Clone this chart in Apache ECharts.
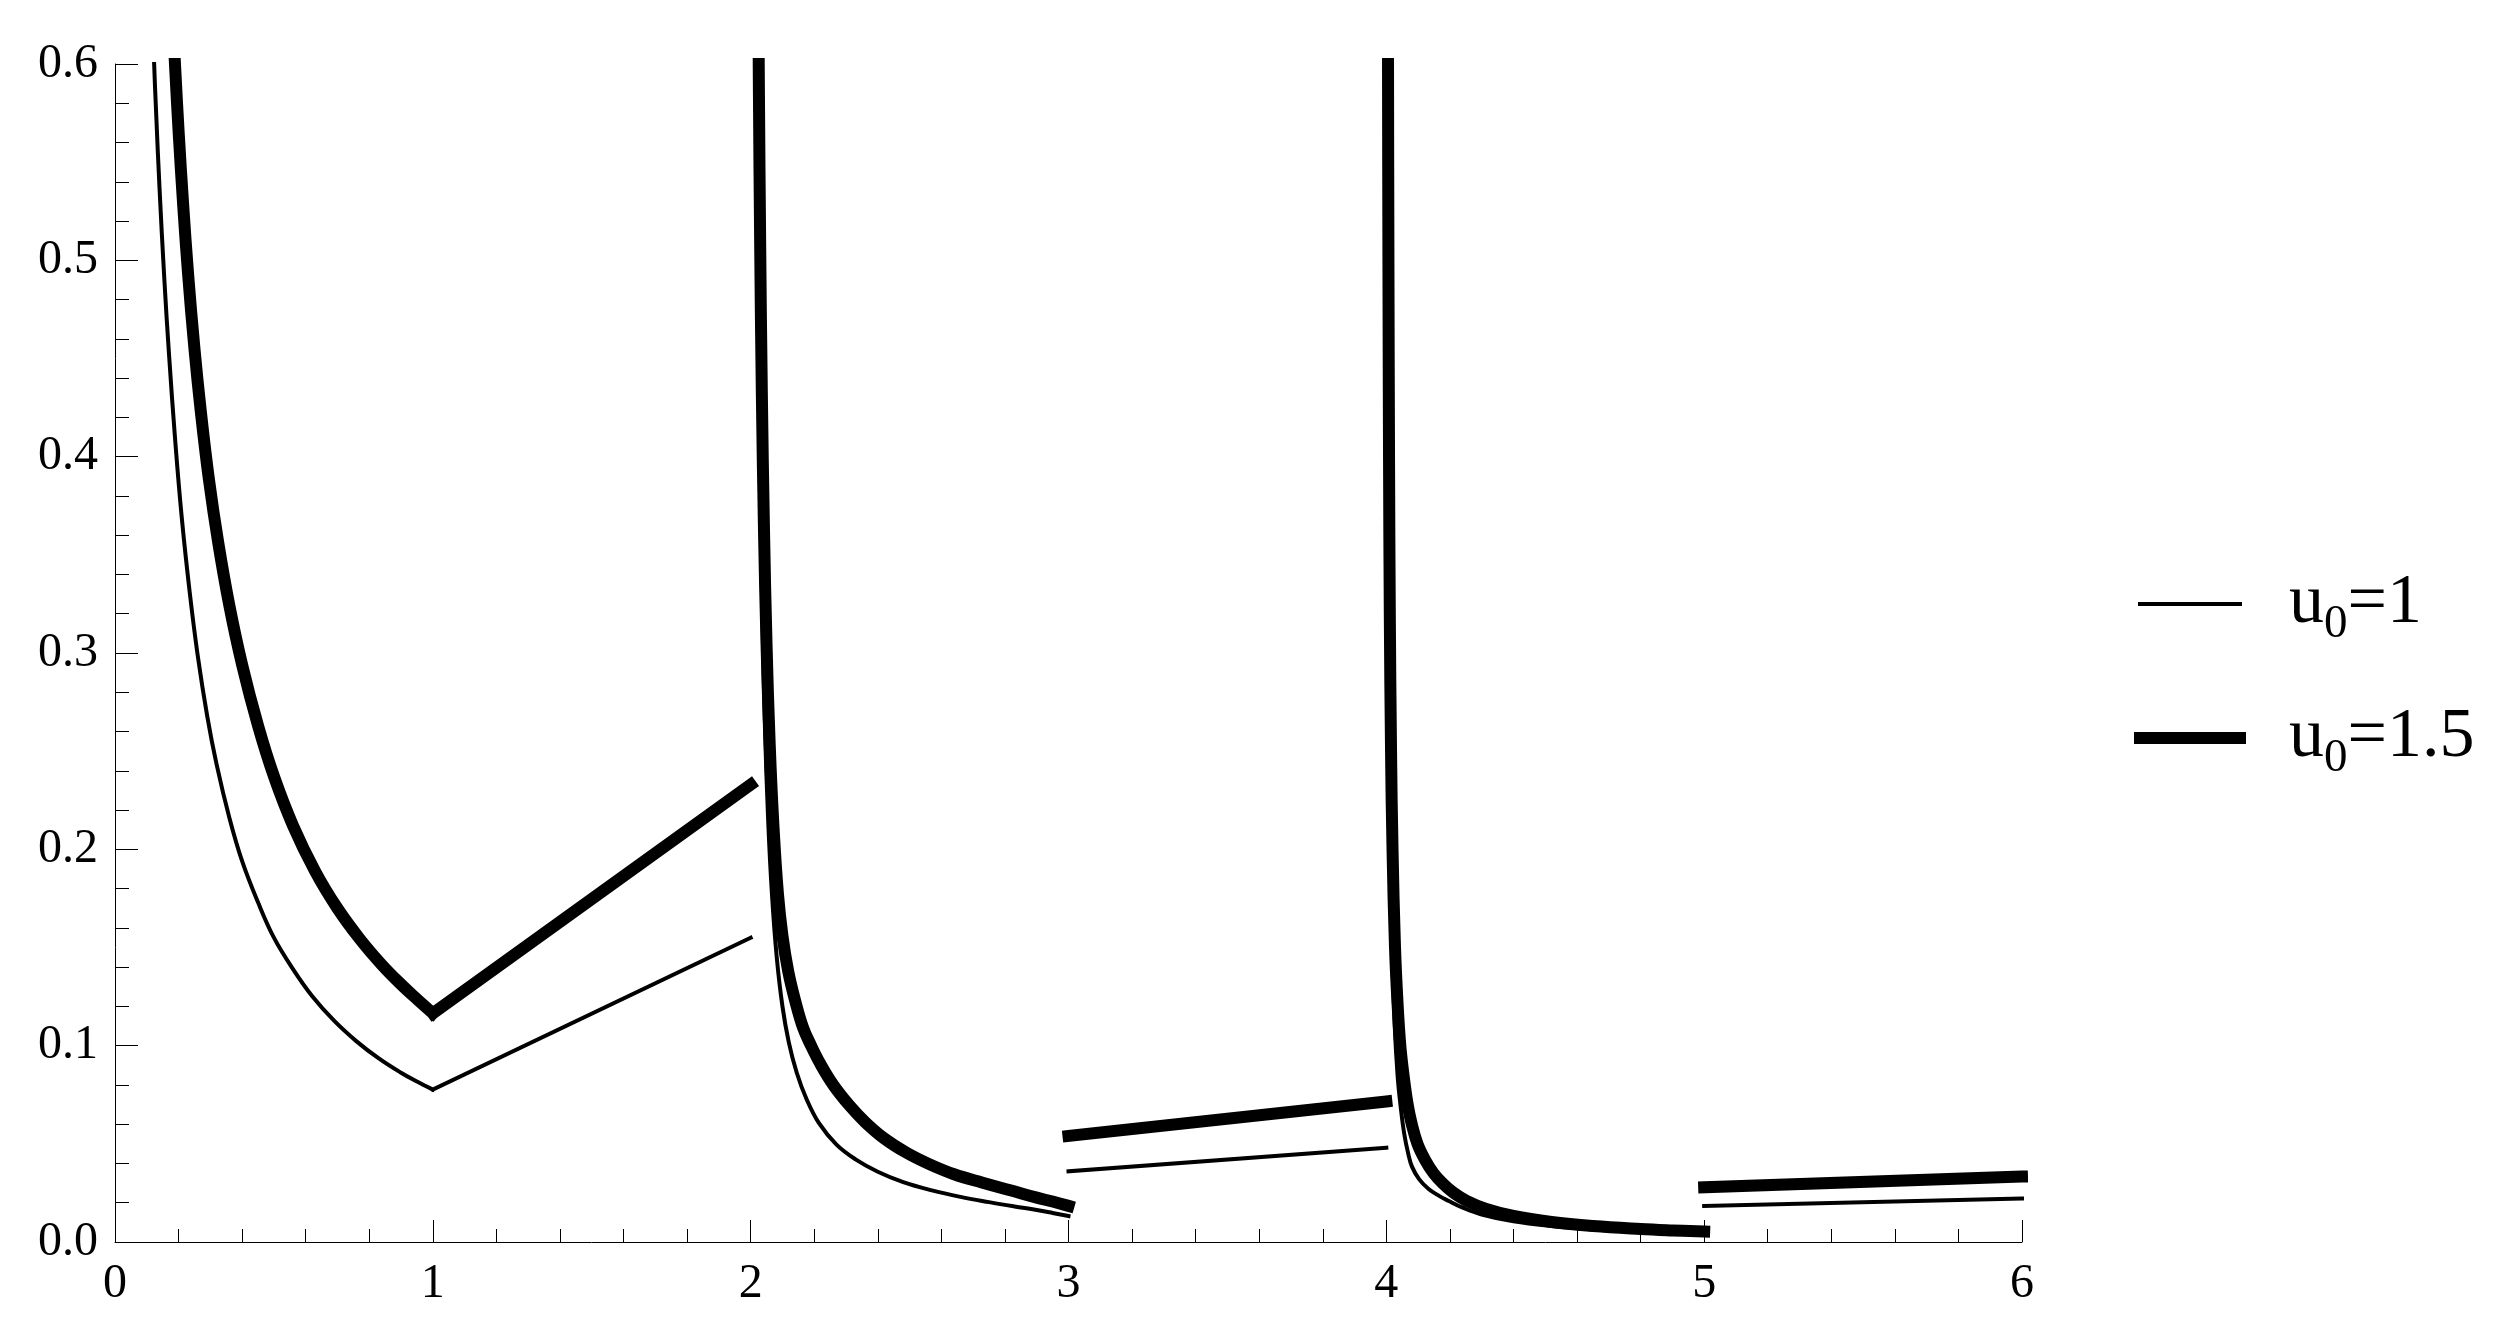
<!DOCTYPE html>
<html><head><meta charset="utf-8">
<script src="https://cdn.jsdelivr.net/npm/echarts@6/dist/echarts.min.js"></script>
<style>html,body{margin:0;padding:0;background:#fff}#c{width:2506px;height:1328px}</style>
</head><body><div id="c"></div>
<script>
// ---- data ----
const seriesNames = ['u0=1', 'u0=1.5'];
const xRange = [0, 6];
const yRange = [0, 0.6];

// u0 = 1 (thin)
const thinDecay01 = [[0.118,0.63],[0.122,0.605],[0.13,0.573],[0.14,0.537],[0.155,0.491],[0.17,0.452],[0.19,0.407],[0.21,0.369],[0.235,0.331],[0.26,0.299],[0.29,0.268],[0.32,0.243],[0.36,0.216],[0.4,0.194],[0.45,0.173],[0.5,0.155],[0.56,0.139],[0.62,0.1253],[0.69,0.1126],[0.76,0.1022],[0.83,0.0935],[0.9,0.0862],[0.95,0.0817],[1.0,0.0776]];
const thinLine12 = [[1.0,0.0776],[2.0,0.155]];
const thinDecay23 = [[2.016,0.74],[2.02,0.59],[2.025,0.472],[2.03,0.393],[2.037,0.319],[2.045,0.262],[2.055,0.215],[2.067,0.177],[2.082,0.1451],[2.1,0.12],[2.12,0.1017],[2.145,0.0862],[2.175,0.0731],[2.215,0.0605],[2.27,0.0496],[2.33,0.0421],[2.4,0.0358],[2.48,0.0305],[2.57,0.0263],[2.66,0.023],[2.75,0.0203],[2.83,0.0181],[2.9,0.0163],[2.95,0.0148],[3.0,0.0132]];
const thinLine34 = [[3.0,0.036],[4.0,0.048]];
const thinDecay45 = [[4.0033,0.72],[4.004,0.6],[4.0056,0.45],[4.0081,0.32],[4.0123,0.22],[4.0187,0.15],[4.0264,0.11],[4.0353,0.085],[4.0443,0.07],[4.0564,0.055],[4.0689,0.045],[4.0807,0.0384],[4.103,0.032],[4.133,0.027],[4.166,0.0235],[4.195,0.021],[4.24,0.0175],[4.3,0.014],[4.4,0.0105],[4.52,0.0081],[4.65,0.0064],[4.8,0.0052],[4.9,0.0046],[5.0,0.004]];
const thinLine56 = [[5.0,0.0184],[6.0,0.0221]];

// u0 = 1.5 (thick)
const thickDecay01 = [[0.185,0.612],[0.19,0.596],[0.2,0.566],[0.215,0.527],[0.23,0.493],[0.25,0.455],[0.27,0.423],[0.295,0.389],[0.325,0.356],[0.36,0.324],[0.4,0.294],[0.45,0.263],[0.5,0.2372],[0.56,0.2121],[0.63,0.1887],[0.7,0.1699],[0.77,0.1544],[0.84,0.1411],[0.9,0.1312],[0.95,0.1237],[1.0,0.1165]];
const thickLine12 = [[1.0,0.1165],[2.0,0.233]];
const thickDecay23 = [[2.018,0.844],[2.022,0.69],[2.026,0.585],[2.03,0.507],[2.035,0.434],[2.042,0.362],[2.05,0.304],[2.06,0.253],[2.072,0.211],[2.086,0.177],[2.1,0.156],[2.118,0.138],[2.14,0.1229],[2.165,0.1091],[2.19,0.1],[2.22,0.0905],[2.26,0.08],[2.31,0.0697],[2.36,0.0611],[2.42,0.0528],[2.49,0.0455],[2.56,0.0398],[2.64,0.0345],[2.73,0.0302],[2.82,0.0262],[2.9,0.0226],[2.95,0.0206],[3.0,0.0184]];
const thickLine34 = [[3.0,0.054],[4.0,0.0716]];
const thickDecay45 = [[4.0044,0.72],[4.0053,0.6],[4.0066,0.5],[4.0085,0.4],[4.0109,0.32],[4.0148,0.25],[4.0195,0.2],[4.0273,0.15],[4.0358,0.12],[4.044,0.1],[4.0541,0.085],[4.0671,0.07],[4.08,0.06],[4.098,0.05],[4.1214,0.042],[4.1486,0.035],[4.1767,0.03],[4.212,0.025],[4.2524,0.021],[4.3118,0.017],[4.4,0.01325],[4.52,0.0102],[4.65,0.00815],[4.8,0.00663],[4.9,0.00589],[5.0,0.0053]];
const thickLine56 = [[5.0,0.0279],[6.0,0.0333]];

// ---- build line data: pieces separated by gaps ----
function chain(pieces) {
  const out = [];
  pieces.forEach((seg, i) => {
    if (i > 0) out.push([seg[0][0], '-']);
    seg.forEach(p => out.push(p));
  });
  return out;
}
const thinData = chain([thinDecay01, thinLine12, thinDecay23, thinLine34, thinDecay45, thinLine56]);
const thickData = chain([thickDecay01, thickLine12, thickDecay23, thickLine34, thickDecay45, thickLine56]);

const FONT = 'Liberation Serif';
const chart = echarts.init(document.getElementById('c'), null, {renderer: 'canvas'});
const axisCommon = {
  axisLine: {show: true, onZero: false, lineStyle: {color: '#000', width: 1}},
  splitLine: {show: false},
  axisLabel: {color: '#000', fontFamily: FONT, fontSize: 48},
};
chart.setOption({
  animation: false,
  backgroundColor: '#fff',
  grid: {left: 115, right: 484, top: 64, bottom: 86, containLabel: false, outerBoundsMode: 'none'},
  xAxis: Object.assign({}, axisCommon, {
    type: 'value', min: xRange[0], max: xRange[1], interval: 1,
    axisTick: {show: true, inside: true, length: 22, lineStyle: {color: '#000', width: 1}},
    minorTick: {show: true, splitNumber: 5, length: 13, lineStyle: {color: '#000', width: 1}},
    axisLabel: Object.assign({}, axisCommon.axisLabel, {margin: 18, formatter: v => String(v)})
  }),
  yAxis: Object.assign({}, axisCommon, {
    type: 'value', min: yRange[0], max: yRange[1], interval: 0.1,
    axisTick: {show: true, inside: true, length: 23, lineStyle: {color: '#000', width: 1}},
    minorTick: {show: true, splitNumber: 5, length: 14, lineStyle: {color: '#000', width: 1}},
    axisLabel: Object.assign({}, axisCommon.axisLabel, {margin: 17, formatter: v => v.toFixed(1)})
  }),
  legend: {
    orient: 'vertical', left: 2129, top: 564,
    itemWidth: 100, itemHeight: 4, itemGap: 55,
    selectedMode: false,
    data: [
      {name: seriesNames[0], lineStyle: {width: 4, cap: 'square', color: '#000'}},
      {name: seriesNames[1], lineStyle: {width: 12, cap: 'square', color: '#000'}}
    ],
    formatter: name => '{m|u}{s|0}{m|' + name.slice(2) + '}',
    textStyle: {
      color: '#000', fontFamily: FONT, fontSize: 70, padding: [0, 0, 0, 44],
      rich: {
        m: {fontFamily: FONT, fontSize: 70, lineHeight: 88, color: '#000'},
        s: {fontFamily: FONT, fontSize: 47, lineHeight: 46, verticalAlign: 'bottom', color: '#000'}
      }
    }
  },
  series: [
    {name: seriesNames[0], type: 'line', data: thinData, showSymbol: false, symbol: 'none', connectNulls: false, clip: true,
     smooth: 0.4,
     lineStyle: {color: '#000', width: 4, cap: 'square', join: 'miter'}, itemStyle: {color: '#000'}},
    {name: seriesNames[1], type: 'line', data: thickData, showSymbol: false, symbol: 'none', connectNulls: false, clip: true,
     smooth: 0.4,
     lineStyle: {color: '#000', width: 12, cap: 'square', join: 'miter'}, itemStyle: {color: '#000'}}
  ]
});
</script>
</body></html>
